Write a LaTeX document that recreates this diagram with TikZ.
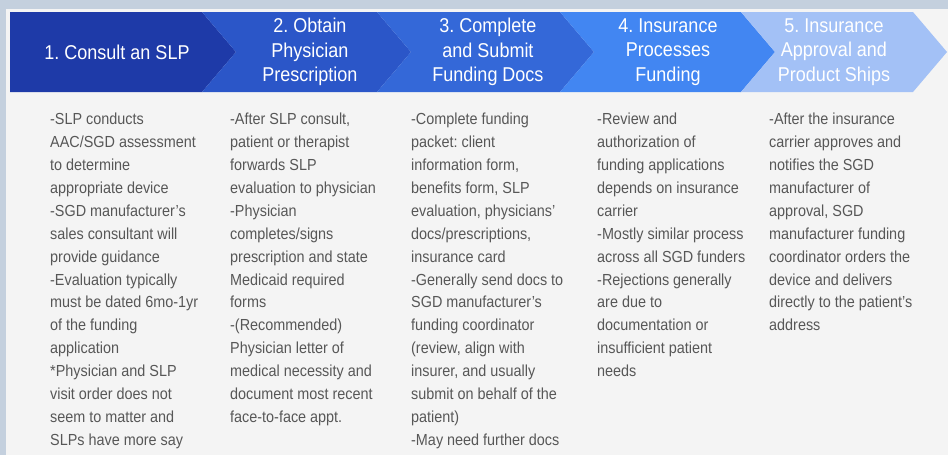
\documentclass[tikz,border=0pt]{standalone}
\usepackage{fontspec}
\setmainfont{Liberation Sans}[FakeStretch=0.9]
\usepackage{xcolor}
\usetikzlibrary{positioning}
\definecolor{bgblue}{HTML}{C4D0DE}
\definecolor{panel}{HTML}{F4F4F4}
\definecolor{chevA}{HTML}{1E3AA8}
\definecolor{chevB}{HTML}{2B56C8}
\definecolor{chevC}{HTML}{3468D8}
\definecolor{chevD}{HTML}{4286F2}
\definecolor{chevE}{HTML}{A3C1F6}
\definecolor{notegray}{HTML}{575757}
\frenchspacing

\begin{document}
\begin{tikzpicture}[x=1pt,y=-1pt,
	stage/.style={text=white,align=center,inner sep=0pt,font=\fontsize{20}{24.5}\selectfont},
	notes/.style={text=notegray,align=left,anchor=north west,inner sep=0pt,font=\fontsize{16}{22.9}\selectfont}]
			\fill[bgblue] (0,0) rectangle (948,455);
			\useasboundingbox (0,0) rectangle (948,455);
			\fill[panel] (6,9) rectangle (948,455);

			% chevrons
			\fill[chevA] (10,12) -- (202,12) -- (236,52) -- (202,92) -- (10,92) -- cycle;
			\foreach \l/\r/\c in {202/377/chevB,377/560/chevC,560/741/chevD,741/913/chevE}
				\fill[\c] (\l,12) -- (\r,12) -- (\r+34,52) -- (\r,92) -- (\l,92) -- (\l+34,52) -- cycle;

			\node[stage] (s1) at (117,52) {1. Consult an SLP};
			\node[stage] (s2) at (310,52) {2. Obtain\\Physician\\Prescription};
			\node[stage] (s3) at (488,52) {3. Complete\\and Submit\\Funding Docs};
			\node[stage] (s4) at (668,52) {4. Insurance\\Processes\\Funding};
			\node[stage] (s5) at (834,52) {5. Insurance\\Approval and\\Product Ships};

			\node[notes] (n1) at (50,113) {-SLP conducts\\AAC/SGD assessment\\to determine\\appropriate device\\-SGD manufacturer’s\\sales consultant will\\provide guidance\\-Evaluation typically\\must be dated 6mo-1yr\\of the funding\\application\\*Physician and SLP\\visit order  does not\\seem to matter and\\SLPs have more say};
			\node[notes] (n2) at (230,113) {-After SLP consult,\\patient or therapist\\forwards SLP\\evaluation to physician\\-Physician\\completes/signs\\prescription and state\\Medicaid required\\forms\\-(Recommended)\\Physician letter of\\medical necessity and\\document most recent\\face-to-face appt.};
			\node[notes] (n3) at (411,113) {-Complete funding\\packet: client\\information form,\\benefits form, SLP\\evaluation, physicians’\\docs/prescriptions,\\insurance card\\-Generally send docs to\\SGD manufacturer’s\\funding coordinator\\(review, align with\\insurer, and usually\\submit on behalf of the\\patient)\\-May need further docs};
			\node[notes] (n4) at (597,113) {-Review and\\authorization of\\funding applications\\depends on insurance\\carrier\\-Mostly similar process\\across all SGD funders\\-Rejections generally\\are due to\\documentation or\\insufficient patient\\needs};
			\node[notes] (n5) at (769,113) {-After the insurance\\carrier approves and\\notifies the SGD\\manufacturer of\\approval, SGD\\manufacturer funding\\coordinator orders the\\device and delivers\\directly to the patient’s\\address};
			\end{tikzpicture}
\end{document}
